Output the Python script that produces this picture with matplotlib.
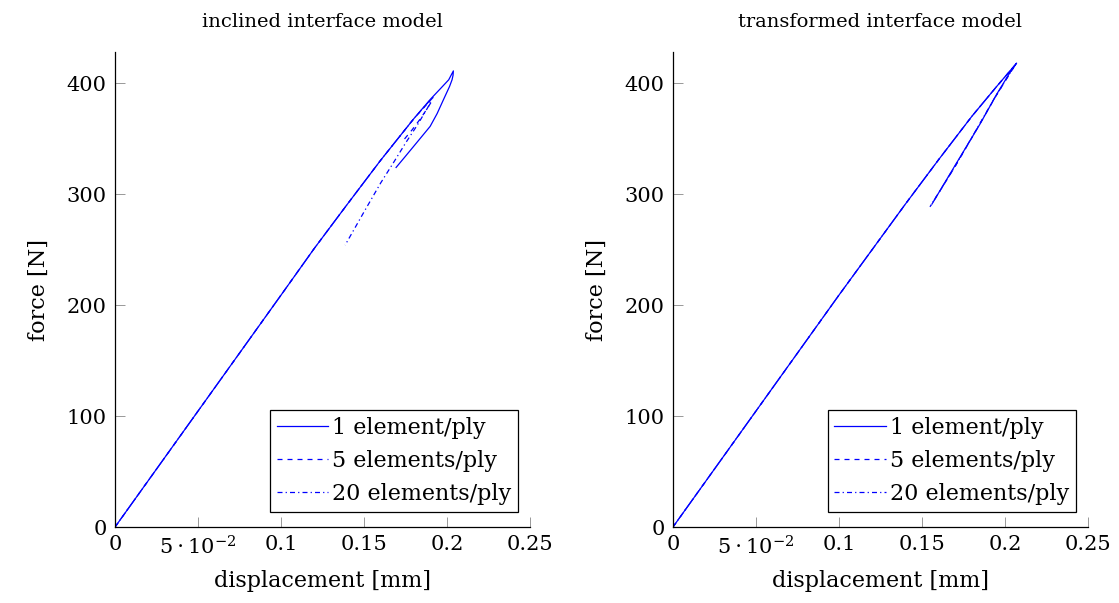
import matplotlib
matplotlib.use("Agg")
import matplotlib.pyplot as plt
import numpy as np

plt.rcParams['font.family'] = ['DejaVu Serif']
plt.rcParams['mathtext.fontset'] = 'dejavuserif'

# inclined interface model: displacement [mm], force [N]
incl_1_x = [0, 0.05, 0.10, 0.12, 0.14, 0.16, 0.18, 0.19, 0.1960, 0.2010, 0.2038,
            0.2036, 0.2030, 0.2015, 0.1995, 0.1975, 0.1940, 0.1898, 0.1850,
            0.1797, 0.1750, 0.1693]
incl_1_y = [0, 104.5, 209, 251, 291, 330.5, 368, 385.5, 395, 403, 411,
            407, 403, 397, 390.5, 384, 372.5, 361, 352.3,
            342.7, 334.2, 324]
incl_5_x = [0, 0.05, 0.10, 0.12, 0.14, 0.16, 0.18, 0.1915,
            0.1905, 0.1880, 0.1840, 0.1790, 0.1740]
incl_5_y = [0, 104.5, 209, 251, 291, 330.5, 368, 387,
            383, 377, 368, 358, 349]
incl_20_x = [0, 0.05, 0.10, 0.12, 0.14, 0.16, 0.18, 0.1900,
             0.1895, 0.1880, 0.1820, 0.1750, 0.1680, 0.1600, 0.1500, 0.1386]
incl_20_y = [0, 104.5, 209, 251, 291, 330.5, 368, 385,
             381, 377, 362, 346, 329, 310, 284, 254]

# transformed interface model
trans_1_x = [0, 0.05, 0.10, 0.12, 0.14, 0.16, 0.18, 0.195, 0.2070,
             0.2040, 0.1950, 0.1849, 0.1700, 0.1560]
trans_1_y = [0, 104.5, 209, 250, 291, 331, 370, 397, 418,
             412, 390, 363, 326, 291]
trans_5_x = [0, 0.05, 0.10, 0.12, 0.14, 0.16, 0.18, 0.195, 0.2065,
             0.2035, 0.1940, 0.1840, 0.1700, 0.1555]
trans_5_y = [0, 104.5, 209, 250, 291, 331, 370, 397, 417,
             410, 387, 361, 325, 290]
trans_20_x = [0, 0.05, 0.10, 0.12, 0.14, 0.16, 0.18, 0.195, 0.2060,
              0.2030, 0.1935, 0.1835, 0.1695, 0.1548]
trans_20_y = [0, 104.5, 209, 250, 291, 331, 370, 397, 416,
              409, 386, 360, 324, 288.5]

labels = ['1 element/ply', '5 elements/ply', '20 elements/ply']
styles = ['-', (0, (4, 4)), (0, (4, 2.5, 1, 2.5))]
xticks = [0, 0.05, 0.1, 0.15, 0.2, 0.25]
xticklabels = ['0', r'$5\cdot10^{-2}$', '0.1', '0.15', '0.2', '0.25']
yticks = [0, 100, 200, 300, 400]

fig = plt.figure(figsize=(11.19, 6.03), dpi=100)
ax1 = fig.add_axes([0.1028, 0.126, 0.3709, 0.7877])
ax2 = fig.add_axes([0.6014, 0.126, 0.3709, 0.7877])

panels = [
    (ax1, 'inclined interface model',
     [(incl_1_x, incl_1_y), (incl_5_x, incl_5_y), (incl_20_x, incl_20_y)]),
    (ax2, 'transformed interface model',
     [(trans_1_x, trans_1_y), (trans_5_x, trans_5_y), (trans_20_x, trans_20_y)]),
]

for ax, title, series in panels:
    for (xs, ys), lab, ls in zip(series, labels, styles):
        ax.plot(xs, ys, color='#0000ff', lw=0.9, linestyle=ls, label=lab)
    ax.set_xlim(0, 0.25)
    ax.set_ylim(0, 428)
    ax.set_xticks(xticks)
    ax.set_xticklabels(xticklabels)
    ax.set_yticks(yticks)
    for s in ['top', 'right']:
        ax.spines[s].set_visible(False)
    for s in ['left', 'bottom']:
        ax.spines[s].set_linewidth(0.9)
    ax.tick_params(direction='in', length=7, width=0.6, color='#888888',
                   labelsize=15, pad=6)
    ax.set_title(title, fontsize=14, pad=18)
    ax.set_xlabel('displacement [mm]', fontsize=16, labelpad=8)
    ax.set_ylabel('force [N]', fontsize=16, labelpad=12)
    leg = ax.legend(loc='lower right', fontsize=16, handlelength=2.3,
                    handletextpad=0.2, borderpad=0.3, labelspacing=0.5,
                    fancybox=False, framealpha=1, edgecolor='black',
                    bbox_to_anchor=(0.971, 0.032), borderaxespad=0)
    leg.get_frame().set_linewidth(0.9)

fig.savefig('out.png', dpi=100)
